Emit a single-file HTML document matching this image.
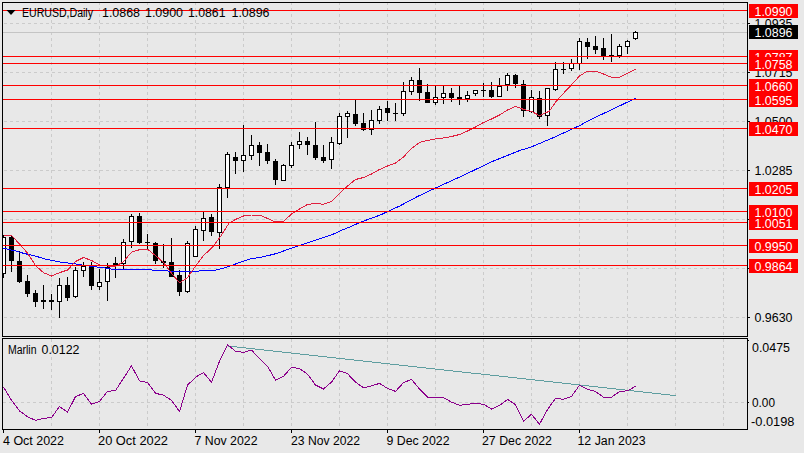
<!DOCTYPE html><html><head><meta charset="utf-8"><style>html,body{margin:0;padding:0;background:#e8e8e8;}svg{display:block;}</style></head><body>
<svg width="804" height="453" viewBox="0 0 804 453" style="font-family:&quot;Liberation Sans&quot;, sans-serif">
<rect x="0" y="0" width="804" height="453" fill="#e8e8e8"/>
<g shape-rendering="crispEdges">
<line x1="4" y1="23.5" x2="747" y2="23.5" stroke="#cbcbcb" stroke-width="1" stroke-dasharray="3,3"/>
<line x1="4" y1="72.5" x2="747" y2="72.5" stroke="#cbcbcb" stroke-width="1" stroke-dasharray="3,3"/>
<line x1="4" y1="121.5" x2="747" y2="121.5" stroke="#cbcbcb" stroke-width="1" stroke-dasharray="3,3"/>
<line x1="4" y1="170.5" x2="747" y2="170.5" stroke="#cbcbcb" stroke-width="1" stroke-dasharray="3,3"/>
<line x1="4" y1="219.5" x2="747" y2="219.5" stroke="#cbcbcb" stroke-width="1" stroke-dasharray="3,3"/>
<line x1="4" y1="268.5" x2="747" y2="268.5" stroke="#cbcbcb" stroke-width="1" stroke-dasharray="3,3"/>
<line x1="4" y1="317.5" x2="747" y2="317.5" stroke="#cbcbcb" stroke-width="1" stroke-dasharray="3,3"/>
<line x1="51.5" y1="2" x2="51.5" y2="336" stroke="#cbcbcb" stroke-width="1" stroke-dasharray="3,3"/>
<line x1="51.5" y1="339" x2="51.5" y2="429" stroke="#cbcbcb" stroke-width="1" stroke-dasharray="3,3"/>
<line x1="99.5" y1="2" x2="99.5" y2="336" stroke="#cbcbcb" stroke-width="1" stroke-dasharray="3,3"/>
<line x1="99.5" y1="339" x2="99.5" y2="429" stroke="#cbcbcb" stroke-width="1" stroke-dasharray="3,3"/>
<line x1="147.5" y1="2" x2="147.5" y2="336" stroke="#cbcbcb" stroke-width="1" stroke-dasharray="3,3"/>
<line x1="147.5" y1="339" x2="147.5" y2="429" stroke="#cbcbcb" stroke-width="1" stroke-dasharray="3,3"/>
<line x1="195.5" y1="2" x2="195.5" y2="336" stroke="#cbcbcb" stroke-width="1" stroke-dasharray="3,3"/>
<line x1="195.5" y1="339" x2="195.5" y2="429" stroke="#cbcbcb" stroke-width="1" stroke-dasharray="3,3"/>
<line x1="243.5" y1="2" x2="243.5" y2="336" stroke="#cbcbcb" stroke-width="1" stroke-dasharray="3,3"/>
<line x1="243.5" y1="339" x2="243.5" y2="429" stroke="#cbcbcb" stroke-width="1" stroke-dasharray="3,3"/>
<line x1="291.5" y1="2" x2="291.5" y2="336" stroke="#cbcbcb" stroke-width="1" stroke-dasharray="3,3"/>
<line x1="291.5" y1="339" x2="291.5" y2="429" stroke="#cbcbcb" stroke-width="1" stroke-dasharray="3,3"/>
<line x1="339.5" y1="2" x2="339.5" y2="336" stroke="#cbcbcb" stroke-width="1" stroke-dasharray="3,3"/>
<line x1="339.5" y1="339" x2="339.5" y2="429" stroke="#cbcbcb" stroke-width="1" stroke-dasharray="3,3"/>
<line x1="387.5" y1="2" x2="387.5" y2="336" stroke="#cbcbcb" stroke-width="1" stroke-dasharray="3,3"/>
<line x1="387.5" y1="339" x2="387.5" y2="429" stroke="#cbcbcb" stroke-width="1" stroke-dasharray="3,3"/>
<line x1="435.5" y1="2" x2="435.5" y2="336" stroke="#cbcbcb" stroke-width="1" stroke-dasharray="3,3"/>
<line x1="435.5" y1="339" x2="435.5" y2="429" stroke="#cbcbcb" stroke-width="1" stroke-dasharray="3,3"/>
<line x1="483.5" y1="2" x2="483.5" y2="336" stroke="#cbcbcb" stroke-width="1" stroke-dasharray="3,3"/>
<line x1="483.5" y1="339" x2="483.5" y2="429" stroke="#cbcbcb" stroke-width="1" stroke-dasharray="3,3"/>
<line x1="531.5" y1="2" x2="531.5" y2="336" stroke="#cbcbcb" stroke-width="1" stroke-dasharray="3,3"/>
<line x1="531.5" y1="339" x2="531.5" y2="429" stroke="#cbcbcb" stroke-width="1" stroke-dasharray="3,3"/>
<line x1="579.5" y1="2" x2="579.5" y2="336" stroke="#cbcbcb" stroke-width="1" stroke-dasharray="3,3"/>
<line x1="579.5" y1="339" x2="579.5" y2="429" stroke="#cbcbcb" stroke-width="1" stroke-dasharray="3,3"/>
<line x1="627.5" y1="2" x2="627.5" y2="336" stroke="#cbcbcb" stroke-width="1" stroke-dasharray="3,3"/>
<line x1="627.5" y1="339" x2="627.5" y2="429" stroke="#cbcbcb" stroke-width="1" stroke-dasharray="3,3"/>
<line x1="675.5" y1="2" x2="675.5" y2="336" stroke="#cbcbcb" stroke-width="1" stroke-dasharray="3,3"/>
<line x1="675.5" y1="339" x2="675.5" y2="429" stroke="#cbcbcb" stroke-width="1" stroke-dasharray="3,3"/>
<line x1="723.5" y1="2" x2="723.5" y2="336" stroke="#cbcbcb" stroke-width="1" stroke-dasharray="3,3"/>
<line x1="723.5" y1="339" x2="723.5" y2="429" stroke="#cbcbcb" stroke-width="1" stroke-dasharray="3,3"/>
<line x1="3" y1="402.5" x2="747" y2="402.5" stroke="#cbcbcb" stroke-width="1" stroke-dasharray="3,3"/>
<line x1="3" y1="32.5" x2="747" y2="32.5" stroke="#c4c4c4" stroke-width="1"/>
</g>
<g shape-rendering="crispEdges">
<line x1="3.5" y1="235" x2="3.5" y2="278" stroke="#000" stroke-width="1"/>
<rect x="1.5" y="237.5" width="4" height="36" fill="#fff" stroke="#000" stroke-width="1"/>
<line x1="11.5" y1="235" x2="11.5" y2="272" stroke="#000" stroke-width="1"/>
<rect x="9.5" y="237.5" width="4" height="23" fill="#000" stroke="#000" stroke-width="1"/>
<line x1="19.5" y1="251" x2="19.5" y2="283" stroke="#000" stroke-width="1"/>
<rect x="17.5" y="261.5" width="4" height="20" fill="#000" stroke="#000" stroke-width="1"/>
<line x1="27.5" y1="275" x2="27.5" y2="297" stroke="#000" stroke-width="1"/>
<rect x="25.5" y="281.5" width="4" height="12" fill="#000" stroke="#000" stroke-width="1"/>
<line x1="35.5" y1="290" x2="35.5" y2="307" stroke="#000" stroke-width="1"/>
<rect x="33.5" y="293.5" width="4" height="8" fill="#000" stroke="#000" stroke-width="1"/>
<line x1="43.5" y1="285" x2="43.5" y2="309" stroke="#000" stroke-width="1"/>
<rect x="41" y="300" width="5" height="2" fill="#000"/>
<line x1="51.5" y1="294" x2="51.5" y2="310" stroke="#000" stroke-width="1"/>
<rect x="49" y="300" width="5" height="2" fill="#000"/>
<line x1="59.5" y1="278" x2="59.5" y2="318" stroke="#000" stroke-width="1"/>
<rect x="57.5" y="285.5" width="4" height="16" fill="#fff" stroke="#000" stroke-width="1"/>
<line x1="67.5" y1="277" x2="67.5" y2="301" stroke="#000" stroke-width="1"/>
<rect x="65.5" y="285.5" width="4" height="12" fill="#000" stroke="#000" stroke-width="1"/>
<line x1="75.5" y1="267" x2="75.5" y2="298" stroke="#000" stroke-width="1"/>
<rect x="73.5" y="270.5" width="4" height="26" fill="#fff" stroke="#000" stroke-width="1"/>
<line x1="83.5" y1="262" x2="83.5" y2="277" stroke="#000" stroke-width="1"/>
<rect x="81.5" y="266.5" width="4" height="4" fill="#fff" stroke="#000" stroke-width="1"/>
<line x1="91.5" y1="262" x2="91.5" y2="290" stroke="#000" stroke-width="1"/>
<rect x="89.5" y="266.5" width="4" height="19" fill="#000" stroke="#000" stroke-width="1"/>
<line x1="99.5" y1="269" x2="99.5" y2="290" stroke="#000" stroke-width="1"/>
<rect x="97.5" y="282.5" width="4" height="4" fill="#fff" stroke="#000" stroke-width="1"/>
<line x1="107.5" y1="263" x2="107.5" y2="301" stroke="#000" stroke-width="1"/>
<rect x="105.5" y="267.5" width="4" height="14" fill="#fff" stroke="#000" stroke-width="1"/>
<line x1="115.5" y1="257" x2="115.5" y2="278" stroke="#000" stroke-width="1"/>
<rect x="113" y="263" width="5" height="2" fill="#000"/>
<line x1="123.5" y1="239" x2="123.5" y2="269" stroke="#000" stroke-width="1"/>
<rect x="121.5" y="242.5" width="4" height="21" fill="#fff" stroke="#000" stroke-width="1"/>
<line x1="131.5" y1="214" x2="131.5" y2="248" stroke="#000" stroke-width="1"/>
<rect x="129.5" y="216.5" width="4" height="25" fill="#fff" stroke="#000" stroke-width="1"/>
<line x1="139.5" y1="213" x2="139.5" y2="244" stroke="#000" stroke-width="1"/>
<rect x="137.5" y="216.5" width="4" height="26" fill="#000" stroke="#000" stroke-width="1"/>
<line x1="147.5" y1="234" x2="147.5" y2="250" stroke="#000" stroke-width="1"/>
<rect x="145" y="242" width="5" height="1" fill="#000"/>
<line x1="155.5" y1="242" x2="155.5" y2="264" stroke="#000" stroke-width="1"/>
<rect x="153.5" y="243.5" width="4" height="17" fill="#000" stroke="#000" stroke-width="1"/>
<line x1="163.5" y1="244" x2="163.5" y2="268" stroke="#000" stroke-width="1"/>
<rect x="161" y="261" width="5" height="2" fill="#000"/>
<line x1="171.5" y1="238" x2="171.5" y2="277" stroke="#000" stroke-width="1"/>
<rect x="169.5" y="262.5" width="4" height="14" fill="#000" stroke="#000" stroke-width="1"/>
<line x1="179.5" y1="270" x2="179.5" y2="296" stroke="#000" stroke-width="1"/>
<rect x="177.5" y="275.5" width="4" height="16" fill="#000" stroke="#000" stroke-width="1"/>
<line x1="187.5" y1="241" x2="187.5" y2="293" stroke="#000" stroke-width="1"/>
<rect x="185.5" y="243.5" width="4" height="48" fill="#fff" stroke="#000" stroke-width="1"/>
<line x1="195.5" y1="226" x2="195.5" y2="257" stroke="#000" stroke-width="1"/>
<rect x="193.5" y="229.5" width="4" height="27" fill="#fff" stroke="#000" stroke-width="1"/>
<line x1="203.5" y1="212" x2="203.5" y2="241" stroke="#000" stroke-width="1"/>
<rect x="201.5" y="218.5" width="4" height="12" fill="#fff" stroke="#000" stroke-width="1"/>
<line x1="211.5" y1="214" x2="211.5" y2="236" stroke="#000" stroke-width="1"/>
<rect x="209.5" y="217.5" width="4" height="14" fill="#000" stroke="#000" stroke-width="1"/>
<line x1="219.5" y1="184" x2="219.5" y2="249" stroke="#000" stroke-width="1"/>
<rect x="217.5" y="187.5" width="4" height="45" fill="#fff" stroke="#000" stroke-width="1"/>
<line x1="227.5" y1="152" x2="227.5" y2="198" stroke="#000" stroke-width="1"/>
<rect x="225.5" y="154.5" width="4" height="33" fill="#fff" stroke="#000" stroke-width="1"/>
<line x1="235.5" y1="152" x2="235.5" y2="174" stroke="#000" stroke-width="1"/>
<rect x="233.5" y="157.5" width="4" height="3" fill="#000" stroke="#000" stroke-width="1"/>
<line x1="243.5" y1="125" x2="243.5" y2="172" stroke="#000" stroke-width="1"/>
<rect x="241.5" y="155.5" width="4" height="5" fill="#fff" stroke="#000" stroke-width="1"/>
<line x1="251.5" y1="135" x2="251.5" y2="160" stroke="#000" stroke-width="1"/>
<rect x="249.5" y="145.5" width="4" height="10" fill="#fff" stroke="#000" stroke-width="1"/>
<line x1="259.5" y1="142" x2="259.5" y2="166" stroke="#000" stroke-width="1"/>
<rect x="257.5" y="145.5" width="4" height="7" fill="#000" stroke="#000" stroke-width="1"/>
<line x1="267.5" y1="144" x2="267.5" y2="164" stroke="#000" stroke-width="1"/>
<rect x="265.5" y="152.5" width="4" height="8" fill="#000" stroke="#000" stroke-width="1"/>
<line x1="275.5" y1="159" x2="275.5" y2="185" stroke="#000" stroke-width="1"/>
<rect x="273.5" y="161.5" width="4" height="18" fill="#000" stroke="#000" stroke-width="1"/>
<line x1="283.5" y1="164" x2="283.5" y2="181" stroke="#000" stroke-width="1"/>
<rect x="281.5" y="165.5" width="4" height="15" fill="#fff" stroke="#000" stroke-width="1"/>
<line x1="291.5" y1="142" x2="291.5" y2="168" stroke="#000" stroke-width="1"/>
<rect x="289.5" y="145.5" width="4" height="20" fill="#fff" stroke="#000" stroke-width="1"/>
<line x1="299.5" y1="132" x2="299.5" y2="149" stroke="#000" stroke-width="1"/>
<rect x="297.5" y="141.5" width="4" height="3" fill="#fff" stroke="#000" stroke-width="1"/>
<line x1="307.5" y1="137" x2="307.5" y2="155" stroke="#000" stroke-width="1"/>
<rect x="305.5" y="141.5" width="4" height="3" fill="#000" stroke="#000" stroke-width="1"/>
<line x1="315.5" y1="122" x2="315.5" y2="160" stroke="#000" stroke-width="1"/>
<rect x="313.5" y="145.5" width="4" height="12" fill="#000" stroke="#000" stroke-width="1"/>
<line x1="323.5" y1="145" x2="323.5" y2="163" stroke="#000" stroke-width="1"/>
<rect x="321.5" y="157.5" width="4" height="3" fill="#000" stroke="#000" stroke-width="1"/>
<line x1="331.5" y1="137" x2="331.5" y2="169" stroke="#000" stroke-width="1"/>
<rect x="329.5" y="142.5" width="4" height="17" fill="#fff" stroke="#000" stroke-width="1"/>
<line x1="339.5" y1="113" x2="339.5" y2="145" stroke="#000" stroke-width="1"/>
<rect x="337.5" y="116.5" width="4" height="27" fill="#fff" stroke="#000" stroke-width="1"/>
<line x1="347.5" y1="111" x2="347.5" y2="138" stroke="#000" stroke-width="1"/>
<rect x="345.5" y="113.5" width="4" height="3" fill="#fff" stroke="#000" stroke-width="1"/>
<line x1="355.5" y1="100" x2="355.5" y2="126" stroke="#000" stroke-width="1"/>
<rect x="353.5" y="114.5" width="4" height="9" fill="#000" stroke="#000" stroke-width="1"/>
<line x1="363.5" y1="113" x2="363.5" y2="131" stroke="#000" stroke-width="1"/>
<rect x="361.5" y="123.5" width="4" height="6" fill="#000" stroke="#000" stroke-width="1"/>
<line x1="371.5" y1="110" x2="371.5" y2="135" stroke="#000" stroke-width="1"/>
<rect x="369.5" y="120.5" width="4" height="9" fill="#fff" stroke="#000" stroke-width="1"/>
<line x1="379.5" y1="106" x2="379.5" y2="124" stroke="#000" stroke-width="1"/>
<rect x="377.5" y="109.5" width="4" height="11" fill="#fff" stroke="#000" stroke-width="1"/>
<line x1="387.5" y1="101" x2="387.5" y2="121" stroke="#000" stroke-width="1"/>
<rect x="385.5" y="108.5" width="4" height="4" fill="#000" stroke="#000" stroke-width="1"/>
<line x1="395.5" y1="103" x2="395.5" y2="121" stroke="#000" stroke-width="1"/>
<rect x="393" y="113" width="5" height="1" fill="#000"/>
<line x1="403.5" y1="82" x2="403.5" y2="116" stroke="#000" stroke-width="1"/>
<rect x="401.5" y="91.5" width="4" height="22" fill="#fff" stroke="#000" stroke-width="1"/>
<line x1="411.5" y1="77" x2="411.5" y2="95" stroke="#000" stroke-width="1"/>
<rect x="409.5" y="80.5" width="4" height="11" fill="#fff" stroke="#000" stroke-width="1"/>
<line x1="419.5" y1="68" x2="419.5" y2="101" stroke="#000" stroke-width="1"/>
<rect x="417.5" y="80.5" width="4" height="12" fill="#000" stroke="#000" stroke-width="1"/>
<line x1="427.5" y1="84" x2="427.5" y2="103" stroke="#000" stroke-width="1"/>
<rect x="425.5" y="92.5" width="4" height="10" fill="#000" stroke="#000" stroke-width="1"/>
<line x1="435.5" y1="86" x2="435.5" y2="105" stroke="#000" stroke-width="1"/>
<rect x="433.5" y="97.5" width="4" height="5" fill="#fff" stroke="#000" stroke-width="1"/>
<line x1="443.5" y1="86" x2="443.5" y2="104" stroke="#000" stroke-width="1"/>
<rect x="441.5" y="93.5" width="4" height="4" fill="#fff" stroke="#000" stroke-width="1"/>
<line x1="451.5" y1="88" x2="451.5" y2="102" stroke="#000" stroke-width="1"/>
<rect x="449.5" y="93.5" width="4" height="4" fill="#000" stroke="#000" stroke-width="1"/>
<line x1="459.5" y1="86" x2="459.5" y2="105" stroke="#000" stroke-width="1"/>
<rect x="457.5" y="97.5" width="4" height="1" fill="#000" stroke="#000" stroke-width="1"/>
<line x1="467.5" y1="91" x2="467.5" y2="102" stroke="#000" stroke-width="1"/>
<rect x="465.5" y="95.5" width="4" height="3" fill="#fff" stroke="#000" stroke-width="1"/>
<line x1="475.5" y1="90" x2="475.5" y2="96" stroke="#000" stroke-width="1"/>
<rect x="473.5" y="90.5" width="4" height="3" fill="#fff" stroke="#000" stroke-width="1"/>
<line x1="483.5" y1="83" x2="483.5" y2="97" stroke="#000" stroke-width="1"/>
<rect x="481" y="90" width="5" height="1" fill="#000"/>
<line x1="491.5" y1="82" x2="491.5" y2="98" stroke="#000" stroke-width="1"/>
<rect x="489.5" y="90.5" width="4" height="6" fill="#000" stroke="#000" stroke-width="1"/>
<line x1="499.5" y1="78" x2="499.5" y2="97" stroke="#000" stroke-width="1"/>
<rect x="497.5" y="86.5" width="4" height="10" fill="#fff" stroke="#000" stroke-width="1"/>
<line x1="507.5" y1="73" x2="507.5" y2="91" stroke="#000" stroke-width="1"/>
<rect x="505.5" y="75.5" width="4" height="9" fill="#fff" stroke="#000" stroke-width="1"/>
<line x1="515.5" y1="74" x2="515.5" y2="88" stroke="#000" stroke-width="1"/>
<rect x="513.5" y="75.5" width="4" height="8" fill="#000" stroke="#000" stroke-width="1"/>
<line x1="523.5" y1="80" x2="523.5" y2="117" stroke="#000" stroke-width="1"/>
<rect x="521.5" y="84.5" width="4" height="26" fill="#000" stroke="#000" stroke-width="1"/>
<line x1="531.5" y1="90" x2="531.5" y2="113" stroke="#000" stroke-width="1"/>
<rect x="529.5" y="97.5" width="4" height="14" fill="#fff" stroke="#000" stroke-width="1"/>
<line x1="539.5" y1="91" x2="539.5" y2="119" stroke="#000" stroke-width="1"/>
<rect x="537.5" y="98.5" width="4" height="18" fill="#000" stroke="#000" stroke-width="1"/>
<line x1="547.5" y1="88" x2="547.5" y2="126" stroke="#000" stroke-width="1"/>
<rect x="545.5" y="88.5" width="4" height="27" fill="#fff" stroke="#000" stroke-width="1"/>
<line x1="555.5" y1="62" x2="555.5" y2="91" stroke="#000" stroke-width="1"/>
<rect x="553.5" y="69.5" width="4" height="20" fill="#fff" stroke="#000" stroke-width="1"/>
<line x1="563.5" y1="62" x2="563.5" y2="74" stroke="#000" stroke-width="1"/>
<rect x="561" y="69" width="5" height="1" fill="#000"/>
<line x1="571.5" y1="59" x2="571.5" y2="71" stroke="#000" stroke-width="1"/>
<rect x="569.5" y="63.5" width="4" height="5" fill="#fff" stroke="#000" stroke-width="1"/>
<line x1="579.5" y1="38" x2="579.5" y2="70" stroke="#000" stroke-width="1"/>
<rect x="577.5" y="41.5" width="4" height="22" fill="#fff" stroke="#000" stroke-width="1"/>
<line x1="587.5" y1="38" x2="587.5" y2="59" stroke="#000" stroke-width="1"/>
<rect x="585.5" y="42.5" width="4" height="4" fill="#000" stroke="#000" stroke-width="1"/>
<line x1="595.5" y1="36" x2="595.5" y2="54" stroke="#000" stroke-width="1"/>
<rect x="593.5" y="46.5" width="4" height="3" fill="#000" stroke="#000" stroke-width="1"/>
<line x1="603.5" y1="38" x2="603.5" y2="60" stroke="#000" stroke-width="1"/>
<rect x="601.5" y="48.5" width="4" height="7" fill="#000" stroke="#000" stroke-width="1"/>
<line x1="611.5" y1="34" x2="611.5" y2="62" stroke="#000" stroke-width="1"/>
<rect x="609" y="55" width="5" height="1" fill="#000"/>
<line x1="619.5" y1="44" x2="619.5" y2="58" stroke="#000" stroke-width="1"/>
<rect x="617.5" y="46.5" width="4" height="9" fill="#fff" stroke="#000" stroke-width="1"/>
<line x1="627.5" y1="40" x2="627.5" y2="54" stroke="#000" stroke-width="1"/>
<rect x="625.5" y="41.5" width="4" height="5" fill="#fff" stroke="#000" stroke-width="1"/>
<line x1="635.5" y1="31" x2="635.5" y2="40" stroke="#000" stroke-width="1"/>
<rect x="633.5" y="32.5" width="4" height="6" fill="#fff" stroke="#000" stroke-width="1"/>
</g>
<polyline points="3.5,248.4 10.1,249.7 16.2,251.1 23.1,253.2 35.3,256.1 47.5,259.6 61.5,262.2 72.5,263.5 88.5,266.0 96.5,267.0 104.5,268.0 112.5,269.3 151.5,269.5 152.5,270.5 167.5,270.5 168.5,271.5 198.5,271.5 199.5,270.5 214.5,270.5 221.8,268.6 233.8,264.6 250.2,258.9 262.3,257.0 276.2,253.6 298.1,245.9 316.0,240.0 331.4,235.0 340.2,230.9 350.2,226.8 362.3,221.5 380.5,214.9 400.5,205.6 417.7,196.4 436.2,187.7 464.1,175.0 492.0,161.6 520.5,150.2 530.8,147.2 556.0,136.5 580.5,125.2 586.5,121.6 635.5,98.3" fill="none" stroke="#0000ff" stroke-width="1" shape-rendering="crispEdges"/>
<polyline points="3.5,235.5 11.5,235.5 19.5,244.0 27.5,253.0 35.5,265.5 43.5,272.7 51.5,276.0 59.5,272.7 67.5,270.0 75.5,261.5 83.5,257.5 91.5,260.5 99.5,265.0 107.5,266.0 115.5,266.4 123.5,261.5 131.5,252.2 139.5,249.7 147.5,249.3 155.5,255.5 163.5,262.5 171.5,273.3 179.5,282.8 187.5,277.8 195.5,266.0 203.5,255.5 208.5,251.0 212.5,247.0 220.2,237.0 229.0,223.2 235.5,219.4 243.5,216.0 251.5,215.0 259.5,215.0 267.5,218.4 275.5,222.0 283.5,221.5 291.5,214.0 299.5,209.0 307.5,204.5 315.5,203.3 323.5,204.3 331.5,201.4 339.5,193.5 347.5,186.0 355.5,179.5 363.5,177.5 371.5,174.0 379.5,169.5 387.5,166.0 395.5,163.0 403.5,157.0 411.5,148.4 419.5,142.4 427.5,140.5 435.5,139.0 443.5,138.0 451.5,136.5 459.5,134.5 467.5,131.0 475.5,127.0 483.5,122.5 491.5,119.0 499.5,115.0 507.5,110.0 515.5,106.3 523.5,109.4 531.5,111.3 539.5,115.7 547.5,112.0 549.5,111.0 556.0,101.5 563.5,93.3 571.1,85.2 579.5,76.0 587.5,71.0 595.5,71.0 603.5,74.0 611.5,77.3 619.5,77.3 627.5,73.2 635.5,69.4" fill="none" stroke="#e0203f" stroke-width="1" shape-rendering="crispEdges"/>
<g shape-rendering="crispEdges">
<line x1="3" y1="10.5" x2="747" y2="10.5" stroke="#ff0000" stroke-width="1"/>
<line x1="3" y1="56.5" x2="747" y2="56.5" stroke="#ff0000" stroke-width="1"/>
<line x1="3" y1="63.5" x2="747" y2="63.5" stroke="#ff0000" stroke-width="1"/>
<line x1="3" y1="85.5" x2="747" y2="85.5" stroke="#ff0000" stroke-width="1"/>
<line x1="3" y1="99.5" x2="747" y2="99.5" stroke="#ff0000" stroke-width="1"/>
<line x1="3" y1="128.5" x2="747" y2="128.5" stroke="#ff0000" stroke-width="1"/>
<line x1="3" y1="188.5" x2="747" y2="188.5" stroke="#ff0000" stroke-width="1"/>
<line x1="3" y1="211.5" x2="747" y2="211.5" stroke="#ff0000" stroke-width="1"/>
<line x1="3" y1="222.5" x2="747" y2="222.5" stroke="#ff0000" stroke-width="1"/>
<line x1="3" y1="245.5" x2="747" y2="245.5" stroke="#ff0000" stroke-width="1"/>
<line x1="3" y1="265.5" x2="747" y2="265.5" stroke="#ff0000" stroke-width="1"/>
</g>
<g shape-rendering="crispEdges">
<rect x="748" y="0" width="56" height="453" fill="#e8e8e8"/>
<rect x="0" y="0" width="2" height="453" fill="#e8e8e8"/>
<rect x="2.5" y="2.5" width="745" height="334" fill="none" stroke="#000" stroke-width="1"/>
<rect x="2.5" y="338.5" width="745" height="91" fill="none" stroke="#000" stroke-width="1"/>
<line x1="748" y1="23.5" x2="750" y2="23.5" stroke="#000"/>
<line x1="748" y1="72.5" x2="750" y2="72.5" stroke="#000"/>
<line x1="748" y1="121.5" x2="750" y2="121.5" stroke="#000"/>
<line x1="748" y1="170.5" x2="750" y2="170.5" stroke="#000"/>
<line x1="748" y1="219.5" x2="750" y2="219.5" stroke="#000"/>
<line x1="748" y1="268.5" x2="750" y2="268.5" stroke="#000"/>
<line x1="748" y1="317.5" x2="750" y2="317.5" stroke="#000"/>
<line x1="748" y1="402.5" x2="749" y2="402.5" stroke="#000"/>
<line x1="748" y1="340.5" x2="749" y2="340.5" stroke="#000"/>
<line x1="3.5" y1="430" x2="3.5" y2="433" stroke="#000"/>
<line x1="99.5" y1="430" x2="99.5" y2="433" stroke="#000"/>
<line x1="195.5" y1="430" x2="195.5" y2="433" stroke="#000"/>
<line x1="291.5" y1="430" x2="291.5" y2="433" stroke="#000"/>
<line x1="387.5" y1="430" x2="387.5" y2="433" stroke="#000"/>
<line x1="483.5" y1="430" x2="483.5" y2="433" stroke="#000"/>
<line x1="579.5" y1="430" x2="579.5" y2="433" stroke="#000"/>
</g>
<line x1="227.5" y1="346" x2="675.5" y2="395.6" stroke="#5f9ea0" stroke-width="1" shape-rendering="crispEdges"/>
<polyline points="3.5,387.0 11.5,400.2 19.5,410.9 27.5,416.8 35.5,420.3 43.5,418.4 51.5,417.5 59.5,406.5 67.5,412.1 75.5,396.7 83.5,393.3 91.5,404.2 99.5,401.5 107.5,391.4 115.5,390.5 123.5,378.3 131.5,365.8 139.5,381.0 147.5,382.4 155.5,393.3 163.5,395.2 171.5,400.3 179.5,411.6 187.5,385.2 195.5,377.3 203.5,372.5 211.5,382.3 219.5,361.2 227.5,344.6 235.5,351.3 243.5,352.4 251.5,350.1 259.5,358.4 267.5,366.2 275.5,380.0 283.5,376.3 291.5,367.3 299.5,368.6 307.5,374.2 315.5,385.0 323.5,389.0 331.5,382.1 339.5,370.8 347.5,373.7 355.5,382.1 363.5,387.8 371.5,385.9 379.5,383.4 387.5,388.4 395.5,391.4 403.5,382.6 411.5,379.5 419.5,388.9 427.5,397.1 435.5,397.5 443.5,397.5 451.5,402.1 459.5,405.3 467.5,404.3 475.5,403.4 483.5,404.3 491.5,409.0 499.5,405.5 507.5,399.4 515.5,404.7 523.5,421.3 531.5,414.3 539.5,424.2 547.5,409.5 555.5,398.5 563.5,399.2 571.5,396.4 579.5,385.3 587.5,389.3 595.5,391.5 603.5,397.2 611.5,397.2 619.5,391.5 627.5,390.8 635.5,386.3" fill="none" stroke="#8b008b" stroke-width="1" shape-rendering="crispEdges"/>
<path d="M6.5,10 L15.5,10 L11,15 Z" fill="#000"/>
<text x="22" y="17" font-size="12" fill="#000" textLength="71" lengthAdjust="spacingAndGlyphs">EURUSD,Daily</text>
<text x="102" y="17" font-size="12" fill="#000" textLength="38" lengthAdjust="spacingAndGlyphs">1.0868</text>
<text x="145" y="17" font-size="12" fill="#000" textLength="38" lengthAdjust="spacingAndGlyphs">1.0900</text>
<text x="188" y="17" font-size="12" fill="#000" textLength="37.5" lengthAdjust="spacingAndGlyphs">1.0861</text>
<text x="231.5" y="17" font-size="12" fill="#000" textLength="38" lengthAdjust="spacingAndGlyphs">1.0896</text>
<text x="754.5" y="28" font-size="12" fill="#000" textLength="38" lengthAdjust="spacingAndGlyphs">1.0935</text>
<text x="754.5" y="77" font-size="12" fill="#000" textLength="38" lengthAdjust="spacingAndGlyphs">1.0715</text>
<text x="754.5" y="126" font-size="12" fill="#000" textLength="38" lengthAdjust="spacingAndGlyphs">1.0500</text>
<text x="754.5" y="175" font-size="12" fill="#000" textLength="38" lengthAdjust="spacingAndGlyphs">1.0285</text>
<text x="754.5" y="224" font-size="12" fill="#000" textLength="38" lengthAdjust="spacingAndGlyphs">1.0070</text>
<text x="754.5" y="273" font-size="12" fill="#000" textLength="38" lengthAdjust="spacingAndGlyphs">0.9850</text>
<text x="754.5" y="322" font-size="12" fill="#000" textLength="38" lengthAdjust="spacingAndGlyphs">0.9630</text>
<rect x="749" y="50" width="49" height="14" fill="#ff0000"/>
<text x="754.5" y="62" font-size="12" fill="#fff" textLength="38" lengthAdjust="spacingAndGlyphs">1.0787</text>
<rect x="749" y="57" width="49" height="14" fill="#ff0000"/>
<text x="754.5" y="69" font-size="12" fill="#fff" textLength="38" lengthAdjust="spacingAndGlyphs">1.0758</text>
<rect x="749" y="4" width="49" height="14" fill="#ff0000"/>
<text x="754.5" y="16" font-size="12" fill="#fff" textLength="38" lengthAdjust="spacingAndGlyphs">1.0990</text>
<rect x="749" y="79" width="49" height="14" fill="#ff0000"/>
<text x="754.5" y="91" font-size="12" fill="#fff" textLength="38" lengthAdjust="spacingAndGlyphs">1.0660</text>
<rect x="749" y="93" width="49" height="14" fill="#ff0000"/>
<text x="754.5" y="105" font-size="12" fill="#fff" textLength="38" lengthAdjust="spacingAndGlyphs">1.0595</text>
<rect x="749" y="122" width="49" height="14" fill="#ff0000"/>
<text x="754.5" y="134" font-size="12" fill="#fff" textLength="38" lengthAdjust="spacingAndGlyphs">1.0470</text>
<rect x="749" y="182" width="49" height="14" fill="#ff0000"/>
<text x="754.5" y="194" font-size="12" fill="#fff" textLength="38" lengthAdjust="spacingAndGlyphs">1.0205</text>
<rect x="749" y="216" width="49" height="14" fill="#ff0000"/>
<text x="754.5" y="228" font-size="12" fill="#fff" textLength="38" lengthAdjust="spacingAndGlyphs">1.0051</text>
<rect x="749" y="205" width="49" height="14" fill="#ff0000"/>
<text x="754.5" y="217" font-size="12" fill="#fff" textLength="38" lengthAdjust="spacingAndGlyphs">1.0100</text>
<rect x="749" y="239" width="49" height="14" fill="#ff0000"/>
<text x="754.5" y="251" font-size="12" fill="#fff" textLength="38" lengthAdjust="spacingAndGlyphs">0.9950</text>
<rect x="749" y="259" width="49" height="14" fill="#ff0000"/>
<text x="754.5" y="271" font-size="12" fill="#fff" textLength="38" lengthAdjust="spacingAndGlyphs">0.9864</text>
<rect x="749" y="25" width="49" height="14" fill="#000"/>
<text x="754.5" y="37" font-size="12" fill="#fff" textLength="38" lengthAdjust="spacingAndGlyphs">1.0896</text>
<text x="8" y="354" font-size="12" fill="#000" textLength="28.5" lengthAdjust="spacingAndGlyphs">Marlin</text>
<text x="41.5" y="354" font-size="12" fill="#000" textLength="38" lengthAdjust="spacingAndGlyphs">0.0122</text>
<text x="752" y="352" font-size="12" fill="#000" textLength="38" lengthAdjust="spacingAndGlyphs">0.0475</text>
<text x="752" y="407" font-size="12" fill="#000" textLength="23" lengthAdjust="spacingAndGlyphs">0.00</text>
<text x="751" y="426" font-size="12" fill="#000" textLength="43.5" lengthAdjust="spacingAndGlyphs">-0.0198</text>
<text x="3" y="445" font-size="12" fill="#000" textLength="61" lengthAdjust="spacingAndGlyphs">4 Oct 2022</text>
<text x="98" y="445" font-size="12" fill="#000" textLength="70" lengthAdjust="spacingAndGlyphs">20 Oct 2022</text>
<text x="194.5" y="445" font-size="12" fill="#000" textLength="63" lengthAdjust="spacingAndGlyphs">7 Nov 2022</text>
<text x="291" y="445" font-size="12" fill="#000" textLength="69" lengthAdjust="spacingAndGlyphs">23 Nov 2022</text>
<text x="386.5" y="445" font-size="12" fill="#000" textLength="63" lengthAdjust="spacingAndGlyphs">9 Dec 2022</text>
<text x="482" y="445" font-size="12" fill="#000" textLength="70" lengthAdjust="spacingAndGlyphs">27 Dec 2022</text>
<text x="577.5" y="445" font-size="12" fill="#000" textLength="68" lengthAdjust="spacingAndGlyphs">12 Jan 2023</text>
</svg></body></html>
